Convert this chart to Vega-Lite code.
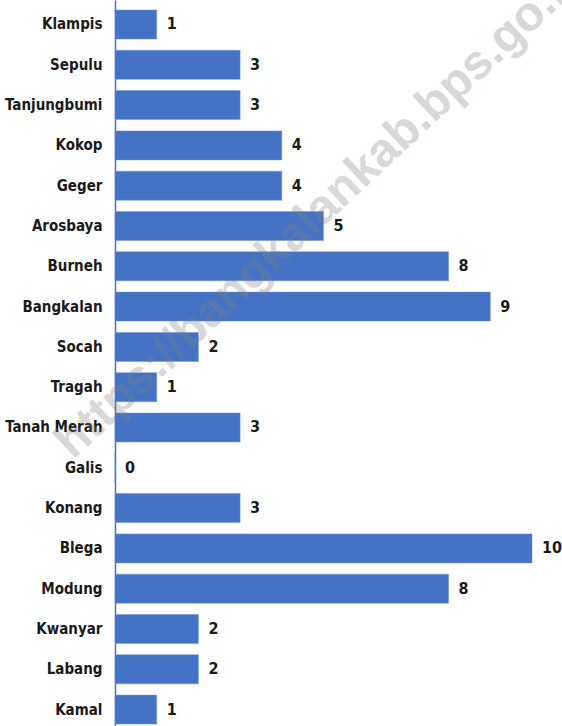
{
  "$schema": "https://vega.github.io/schema/vega-lite/v6.json",
  "width": 417,
  "height": 726,
  "autosize": "none",
  "padding": {"left": 115, "top": 0, "right": 30, "bottom": 0},
  "background": "white",
  "config": {"view": {"stroke": null}},
  "datasets": {
    "kec": [
      {"kecamatan": "Klampis", "jumlah": 1},
      {"kecamatan": "Sepulu", "jumlah": 3},
      {"kecamatan": "Tanjungbumi", "jumlah": 3},
      {"kecamatan": "Kokop", "jumlah": 4},
      {"kecamatan": "Geger", "jumlah": 4},
      {"kecamatan": "Arosbaya", "jumlah": 5},
      {"kecamatan": "Burneh", "jumlah": 8},
      {"kecamatan": "Bangkalan", "jumlah": 9},
      {"kecamatan": "Socah", "jumlah": 2},
      {"kecamatan": "Tragah", "jumlah": 1},
      {"kecamatan": "Tanah Merah", "jumlah": 3},
      {"kecamatan": "Galis", "jumlah": 0},
      {"kecamatan": "Konang", "jumlah": 3},
      {"kecamatan": "Blega", "jumlah": 10},
      {"kecamatan": "Modung", "jumlah": 8},
      {"kecamatan": "Kwanyar", "jumlah": 2},
      {"kecamatan": "Labang", "jumlah": 2},
      {"kecamatan": "Kamal", "jumlah": 1}
    ],
    "wm": [
      {"teks": "https://bangkalankab.bps.go.id", "jumlah": 4.52, "kecamatan": "Arosbaya"}
    ]
  },
  "encoding": {
    "y": {
      "field": "kecamatan",
      "type": "nominal",
      "sort": null,
      "scale": {
        "domain": ["Klampis", "Sepulu", "Tanjungbumi", "Kokop", "Geger", "Arosbaya", "Burneh", "Bangkalan", "Socah", "Tragah", "Tanah Merah", "Galis", "Konang", "Blega", "Modung", "Kwanyar", "Labang", "Kamal"],
        "paddingInner": 0.28,
        "paddingOuter": 0.1475,
        "align": 0.84
      },
      "axis": {
        "title": null,
        "ticks": false,
        "grid": false,
        "domain": true,
        "domainColor": "#4472C4",
        "domainWidth": 1.5,
        "labelFont": "DejaVu Sans Condensed",
        "labelFontWeight": "bold",
        "labelFontSize": 15,
        "labelColor": "#1a1a1a",
        "labelPadding": 13,
        "labelLimit": 200
      }
    },
    "x": {
      "field": "jumlah",
      "type": "quantitative",
      "scale": {"domain": [0, 10], "nice": false, "zero": true},
      "axis": null
    }
  },
  "layer": [
    {
      "data": {"name": "kec"},
      "mark": {"type": "bar", "color": "#4472C4", "stroke": "#6f93d4", "strokeWidth": 0.5}
    },
    {
      "data": {"name": "kec"},
      "mark": {
        "type": "text",
        "align": "left",
        "baseline": "middle",
        "dx": 10,
        "font": "DejaVu Sans Condensed",
        "fontWeight": "bold",
        "fontSize": 16,
        "color": "#1a1a1a"
      },
      "encoding": {"text": {"field": "jumlah", "type": "quantitative"}}
    },
    {
      "data": {"name": "wm"},
      "mark": {
        "type": "text",
        "align": "center",
        "baseline": "middle",
        "angle": -43,
        "dx": 25,
        "font": "Liberation Sans",
        "fontWeight": "bold",
        "fontSize": 48,
        "color": "#808080",
        "opacity": 0.3
      },
      "encoding": {"text": {"field": "teks", "type": "nominal"}}
    }
  ]
}
